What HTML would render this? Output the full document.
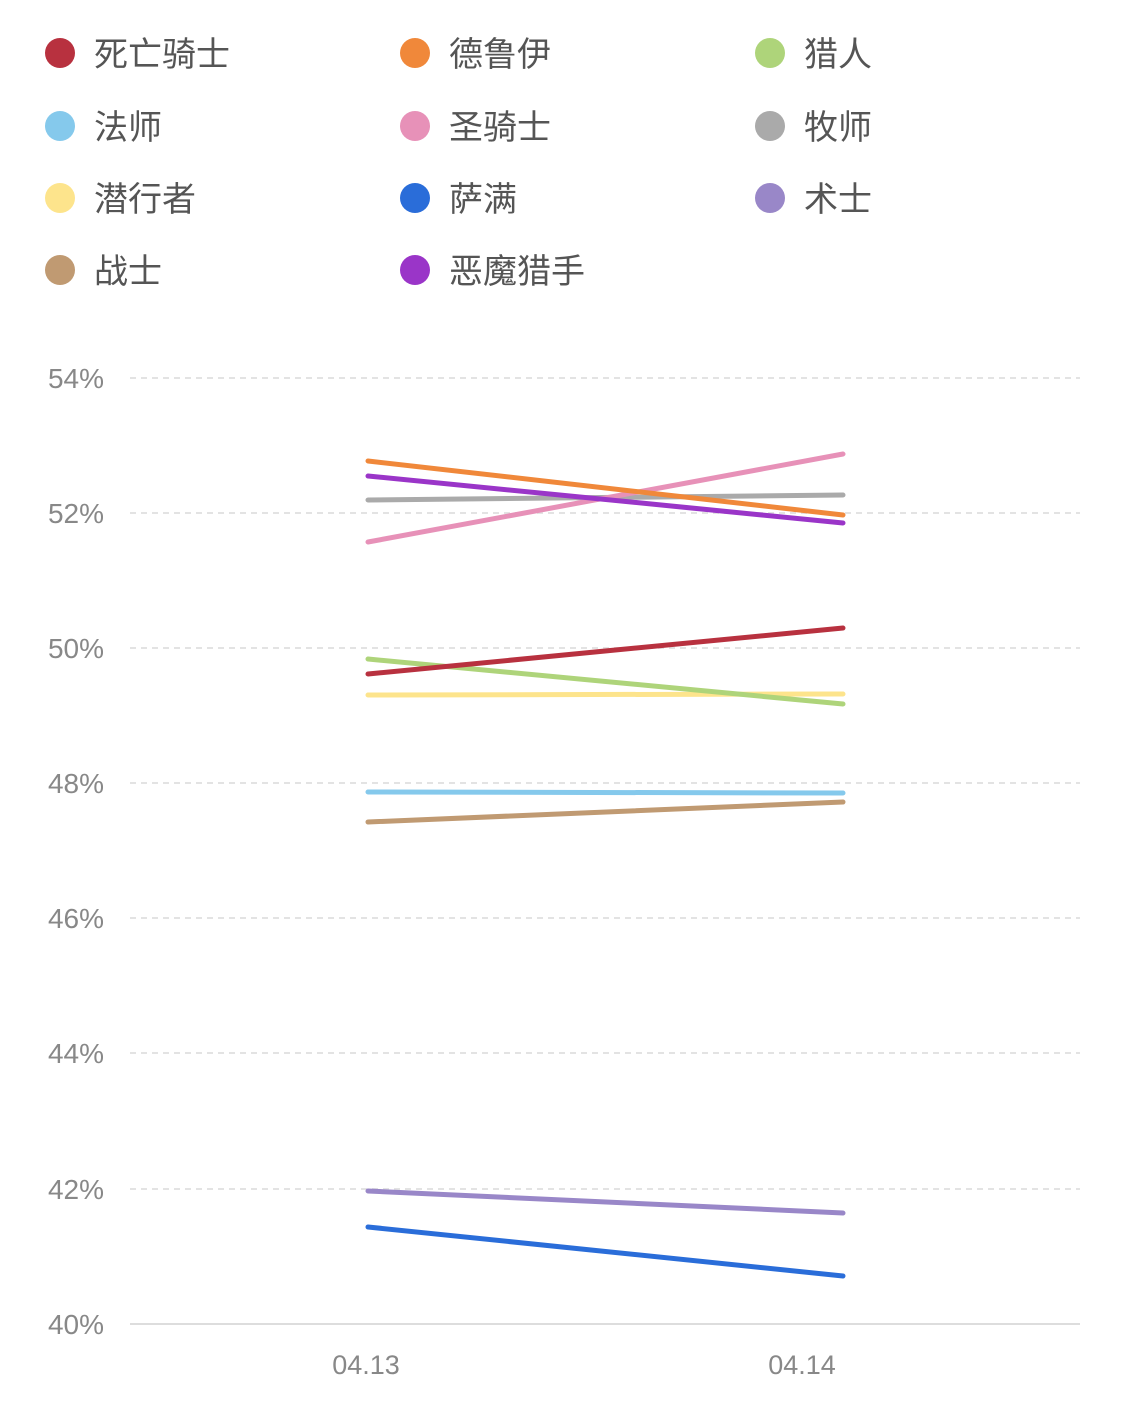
<!DOCTYPE html>
<html><head><meta charset="utf-8"><style>
body{margin:0;background:#fff;}
svg text{font-family:"Liberation Sans","Noto Sans CJK SC",sans-serif;}
</style></head><body>
<svg width="1125" height="1398" xmlns="http://www.w3.org/2000/svg">
<g font-size="34" fill="#555">
<circle cx="60" cy="53" r="15" fill="#b8313f"/><text x="94" y="66">死亡骑士</text>
<circle cx="415" cy="53" r="15" fill="#f0883a"/><text x="449" y="66">德鲁伊</text>
<circle cx="770" cy="53" r="15" fill="#aed47a"/><text x="804" y="66">猎人</text>
<circle cx="60" cy="126" r="15" fill="#85c9ec"/><text x="94" y="139">法师</text>
<circle cx="415" cy="126" r="15" fill="#e791b8"/><text x="449" y="139">圣骑士</text>
<circle cx="770" cy="126" r="15" fill="#aaaaaa"/><text x="804" y="139">牧师</text>
<circle cx="60" cy="198" r="15" fill="#fde48c"/><text x="94" y="211">潜行者</text>
<circle cx="415" cy="198" r="15" fill="#2a6dd9"/><text x="449" y="211">萨满</text>
<circle cx="770" cy="198" r="15" fill="#9987c8"/><text x="804" y="211">术士</text>
<circle cx="60" cy="270" r="15" fill="#c09a72"/><text x="94" y="283">战士</text>
<circle cx="415" cy="270" r="15" fill="#9a35c8"/><text x="449" y="283">恶魔猎手</text>
</g>
<g stroke="#e3e3e3" stroke-width="2" stroke-dasharray="6,5">
<line x1="130" x2="1080" y1="378" y2="378"/><line x1="130" x2="1080" y1="513" y2="513"/>
<line x1="130" x2="1080" y1="648" y2="648"/><line x1="130" x2="1080" y1="783" y2="783"/>
<line x1="130" x2="1080" y1="918" y2="918"/><line x1="130" x2="1080" y1="1053" y2="1053"/>
<line x1="130" x2="1080" y1="1189" y2="1189"/>
</g>
<line x1="130" x2="1080" y1="1324" y2="1324" stroke="#ddd" stroke-width="2"/>
<g font-size="28" fill="#888" text-anchor="end">
<text x="104" y="388">54%</text><text x="104" y="523">52%</text><text x="104" y="658">50%</text>
<text x="104" y="793">48%</text><text x="104" y="928">46%</text><text x="104" y="1063">44%</text>
<text x="104" y="1199">42%</text><text x="104" y="1334">40%</text>
</g>
<g font-size="27" fill="#888" text-anchor="middle">
<text x="366" y="1374">04.13</text><text x="802" y="1374">04.14</text>
</g>
<g stroke-width="5" stroke-linecap="round" fill="none">
<line x1="368" y1="1227" x2="843" y2="1276" stroke="#2a6dd9"/>
<line x1="368" y1="1191" x2="843" y2="1213" stroke="#9987c8"/>
<line x1="368" y1="822" x2="843" y2="802" stroke="#c09a72"/>
<line x1="368" y1="792" x2="843" y2="793" stroke="#85c9ec"/>
<line x1="368" y1="695" x2="843" y2="694" stroke="#fde48c"/>
<line x1="368" y1="659" x2="843" y2="704" stroke="#aed47a"/>
<line x1="368" y1="674" x2="843" y2="628" stroke="#b8313f"/>
<line x1="368" y1="500" x2="843" y2="495" stroke="#aaaaaa"/>
<line x1="368" y1="542" x2="843" y2="454" stroke="#e791b8"/>
<line x1="368" y1="461" x2="843" y2="515" stroke="#f0883a"/>
<line x1="368" y1="476" x2="843" y2="523" stroke="#9a35c8"/>
</g>
</svg>
</body></html>
